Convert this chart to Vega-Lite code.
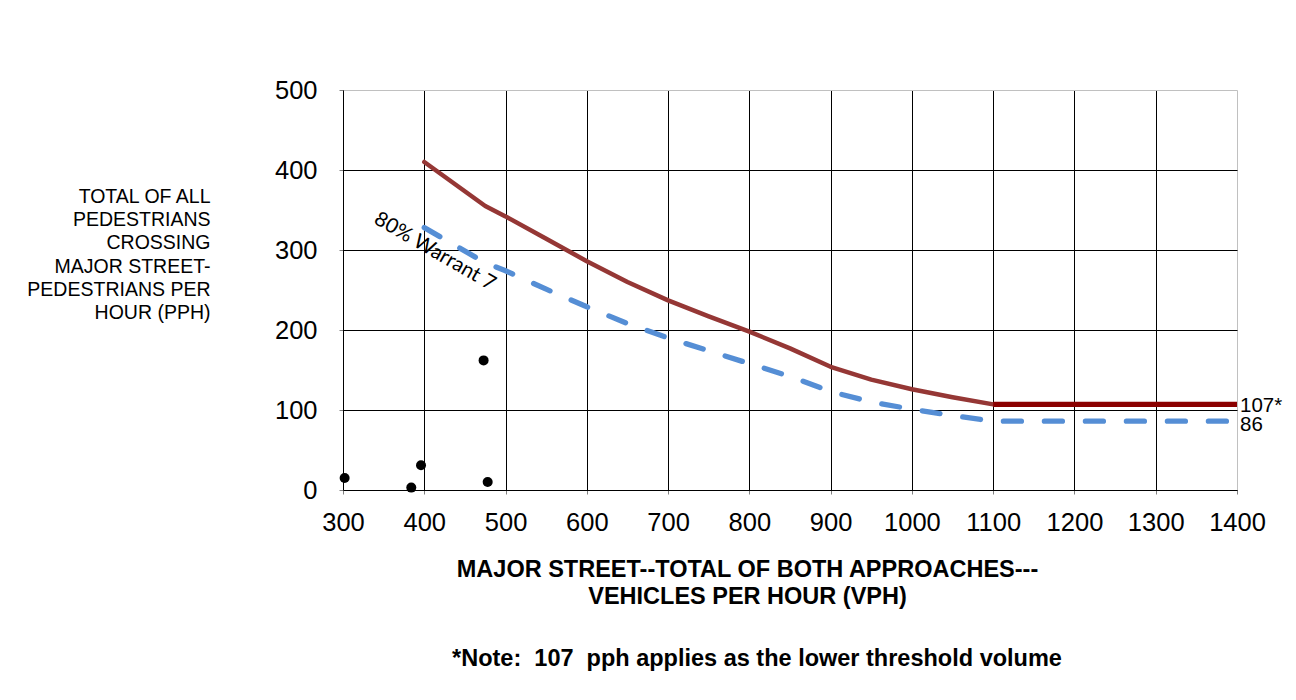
{
  "$schema": "https://vega.github.io/schema/vega-lite/v6.json",
  "width": 894,
  "height": 400,
  "autosize": {"type": "none"},
  "padding": {"left": 343, "top": 90, "right": 59, "bottom": 210},
  "background": "white",
  "title": {
    "text": "*Note:\u00a0 107\u00a0 pph applies as the lower threshold volume",
    "orient": "bottom",
    "anchor": "middle",
    "dx": -33,
    "offset": 58,
    "baseline": "alphabetic",
    "font": "Liberation Sans",
    "fontSize": 23.5,
    "fontWeight": "bold",
    "color": "black"
  },
  "config": {
    "view": {"stroke": null},
    "axis": {
      "labelFont": "Liberation Sans",
      "titleFont": "Liberation Sans",
      "labelColor": "black",
      "titleColor": "black",
      "domainColor": "black",
      "domainWidth": 1,
      "tickColor": "#808080",
      "tickSize": 4,
      "gridWidth": 1,
      "labelFlush": false,
      "labelOverlap": false
    }
  },
  "datasets": {
    "curve": [
      {"vph": 400, "pph": 410},
      {"vph": 475, "pph": 355},
      {"vph": 500, "pph": 342},
      {"vph": 550, "pph": 314},
      {"vph": 600, "pph": 286},
      {"vph": 650, "pph": 260},
      {"vph": 700, "pph": 237},
      {"vph": 750, "pph": 217},
      {"vph": 800, "pph": 198},
      {"vph": 850, "pph": 177},
      {"vph": 900, "pph": 154},
      {"vph": 950, "pph": 138},
      {"vph": 1000, "pph": 126},
      {"vph": 1050, "pph": 116},
      {"vph": 1100, "pph": 107}
    ],
    "flat": [
      {"vph": 1100, "pph": 107},
      {"vph": 1400, "pph": 107}
    ],
    "eighty": [
      {"vph": 400, "pph": 328},
      {"vph": 475, "pph": 284},
      {"vph": 500, "pph": 274},
      {"vph": 550, "pph": 251},
      {"vph": 600, "pph": 229},
      {"vph": 650, "pph": 208},
      {"vph": 700, "pph": 190},
      {"vph": 750, "pph": 174},
      {"vph": 800, "pph": 158},
      {"vph": 850, "pph": 142},
      {"vph": 900, "pph": 123},
      {"vph": 950, "pph": 110},
      {"vph": 1000, "pph": 101},
      {"vph": 1050, "pph": 93},
      {"vph": 1100, "pph": 86},
      {"vph": 1400, "pph": 86}
    ],
    "obs": [
      {"vph": 302, "pph": 15},
      {"vph": 384, "pph": 3},
      {"vph": 396, "pph": 31},
      {"vph": 473, "pph": 162},
      {"vph": 478, "pph": 10}
    ],
    "label107": [
      {"vph": 1400, "pph": 107, "label": "107*"}
    ],
    "label86": [
      {"vph": 1400, "pph": 86, "label": "86"}
    ],
    "curveLabel": [
      {"vph": 413, "pph": 298, "label": "80% Warrant 7"}
    ]
  },
  "layer": [
    {
      "data": {"name": "eighty"},
      "mark": {"type": "line", "color": "#558ED5", "strokeWidth": 5.3, "strokeDash": [18, 23], "strokeCap": "round", "clip": false},
      "encoding": {
        "x": {
          "field": "vph",
          "type": "quantitative",
          "scale": {"domain": [300, 1400], "nice": false, "zero": false},
          "axis": {
            "title": ["MAJOR STREET--TOTAL OF BOTH APPROACHES---", "VEHICLES PER HOUR (VPH)"],
            "values": [300, 400, 500, 600, 700, 800, 900, 1000, 1100, 1200, 1300, 1400],
            "format": "d",
            "labelFontSize": 25.5,
            "labelPadding": 16,
            "grid": true,
            "gridColor": {"condition": {"test": "datum.value === 1400", "value": "#c0c0c0"}, "value": "black"},
            "titleFontSize": 23.5,
            "titleFontWeight": "bold",
            "titleX": 404,
            "titleY": 86,
            "titleAlign": "center",
            "titleBaseline": "alphabetic",
            "titleLineHeight": 27.3
          }
        },
        "y": {
          "field": "pph",
          "type": "quantitative",
          "scale": {"domain": [0, 500], "nice": false},
          "axis": {
            "title": ["TOTAL OF ALL", "PEDESTRIANS", "CROSSING", "MAJOR STREET-", "PEDESTRIANS PER", "HOUR (PPH)"],
            "values": [0, 100, 200, 300, 400, 500],
            "format": "d",
            "labelFontSize": 25.5,
            "labelPadding": 22,
            "grid": true,
            "gridColor": {"condition": {"test": "datum.value === 500", "value": "#c0c0c0"}, "value": "black"},
            "titleAngle": 0,
            "titleAlign": "right",
            "titleBaseline": "alphabetic",
            "titleX": -133,
            "titleY": 112.3,
            "titleFontSize": 19.5,
            "titleFontWeight": "normal",
            "titleLineHeight": 23.3
          }
        }
      }
    },
    {
      "data": {"name": "curve"},
      "mark": {"type": "line", "color": "#953735", "strokeWidth": 4.5, "strokeCap": "round", "strokeJoin": "round"},
      "encoding": {
        "x": {"field": "vph", "type": "quantitative"},
        "y": {"field": "pph", "type": "quantitative"}
      }
    },
    {
      "data": {"name": "flat"},
      "mark": {"type": "line", "color": "#8B0000", "strokeWidth": 5.3, "clip": false},
      "encoding": {
        "x": {"field": "vph", "type": "quantitative"},
        "y": {"field": "pph", "type": "quantitative"}
      }
    },
    {
      "data": {"name": "obs"},
      "mark": {"type": "circle", "color": "black", "size": 100, "opacity": 1, "clip": false},
      "encoding": {
        "x": {"field": "vph", "type": "quantitative"},
        "y": {"field": "pph", "type": "quantitative"}
      }
    },
    {
      "data": {"name": "label107"},
      "mark": {"type": "text", "align": "left", "baseline": "middle", "dx": 3, "dy": 1.5, "font": "Liberation Sans", "fontSize": 20.5, "color": "black"},
      "encoding": {
        "x": {"field": "vph", "type": "quantitative"},
        "y": {"field": "pph", "type": "quantitative"},
        "text": {"field": "label"}
      }
    },
    {
      "data": {"name": "label86"},
      "mark": {"type": "text", "align": "left", "baseline": "middle", "dx": 3, "dy": 4, "font": "Liberation Sans", "fontSize": 20.5, "color": "black"},
      "encoding": {
        "x": {"field": "vph", "type": "quantitative"},
        "y": {"field": "pph", "type": "quantitative"},
        "text": {"field": "label"}
      }
    },
    {
      "data": {"name": "curveLabel"},
      "mark": {"type": "text", "align": "center", "baseline": "middle", "angle": 30, "font": "Lato", "fontSize": 20.5, "color": "black"},
      "encoding": {
        "x": {"field": "vph", "type": "quantitative"},
        "y": {"field": "pph", "type": "quantitative"},
        "text": {"field": "label"}
      }
    }
  ]
}
